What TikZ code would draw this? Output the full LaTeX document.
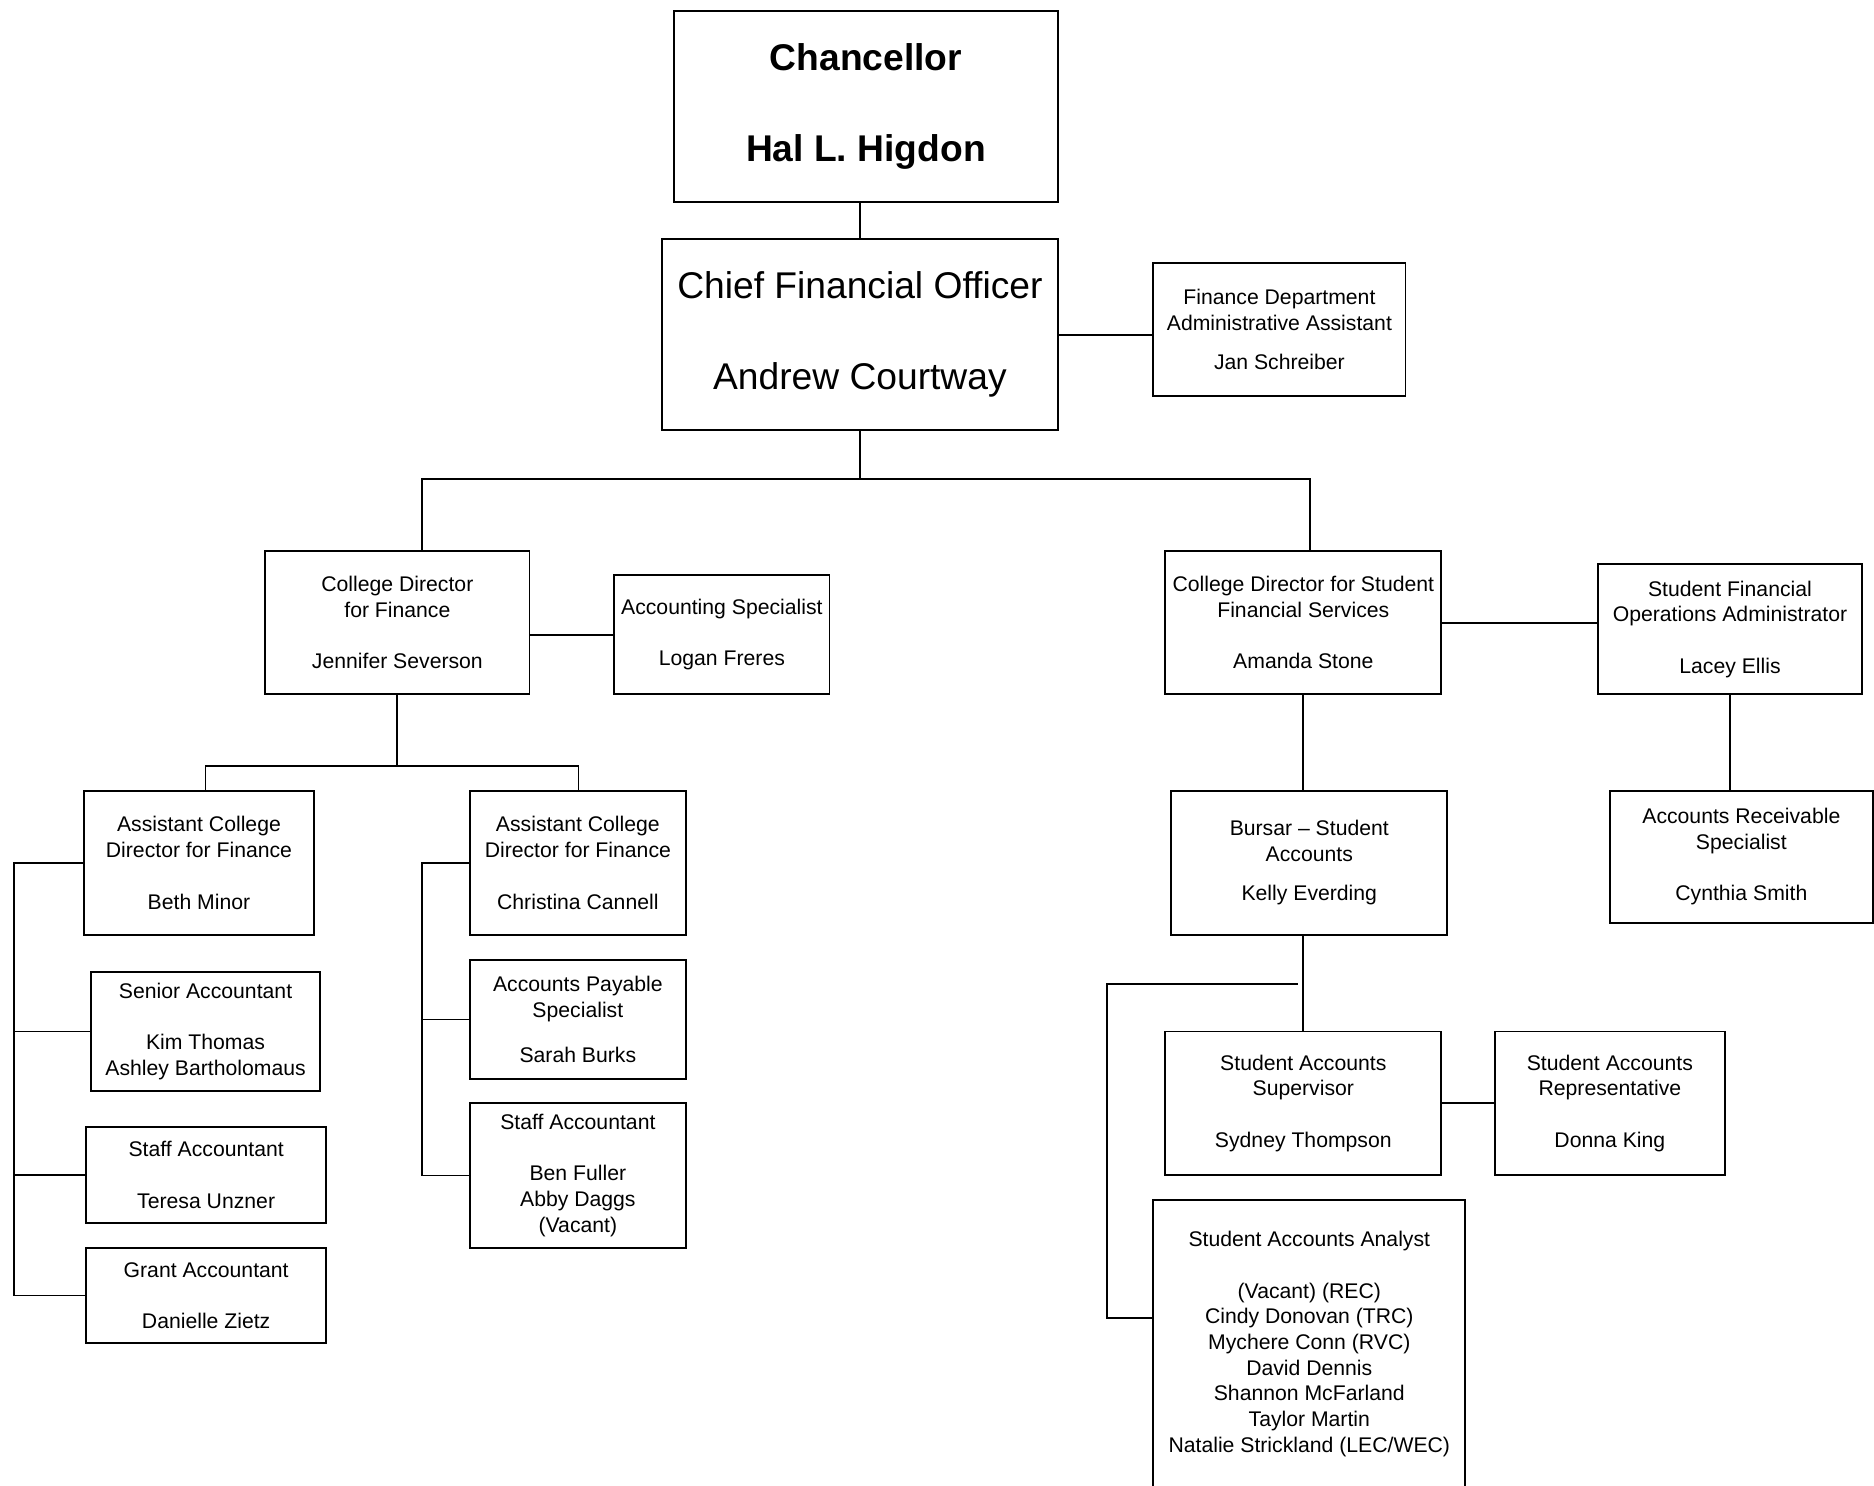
\documentclass[tikz,border=0pt]{standalone}
\usepackage{fontspec}
\setmainfont{Liberation Sans}
\newcommand\nf{\fontsize{10.6}{12.85}\selectfont}
\newcommand\bigf{\fontsize{18.6}{45.4}\selectfont}
\begin{document}
\begin{tikzpicture}[x=0.5976pt, y=-0.5976pt,
  box/.style={draw, line width=0.9pt, rectangle, inner sep=0pt, align=center, font=\nf,
              execute at begin node={\rule{0pt}{10pt}}},
  bigbox/.style={box, execute at begin node={\rule{0pt}{16.4pt}}},
  sz/.style 2 args={minimum width=#1*0.5976pt, minimum height=#2*0.5976pt},
  txt/.style={inner sep=0pt, align=center, font=\nf},
  conn/.style={line width=0.9pt}]
\fill[white] (0,0) rectangle (1568,1243);
\useasboundingbox (0,0) rectangle (1568,1243);

% top
\node[bigbox, sz={321}{160}, font=\bigf\bfseries] (chan) at (724.5,89) {Chancellor\\Hal L. Higdon};
\node[bigbox, sz={331}{160}, font=\bigf] (cfo) at (719.5,280) {Chief Financial Officer\\Andrew Courtway};
\node[box, sz={211}{111}] (fda) at (1070.5,275.5) {Finance Department\\Administrative Assistant\\[6.75pt]Jan Schreiber};

% level 2
\node[box, sz={221}{120}] (cdf) at (332.5,521) {College Director\\for Finance\\[12.85pt]Jennifer Severson};
\node[box, sz={180}{100}] (acs) at (604,531) {Accounting Specialist\\[12.85pt]Logan Freres};
\node[box, sz={231}{120}] (cds) at (1090.5,521) {College Director for Student\\Financial Services\\[12.85pt]Amanda Stone};
\node[box, sz={221}{109}] (sfo) at (1447.5,526.5) {Student Financial\\Operations Administrator\\[12.85pt]Lacey Ellis};
\node[box, sz={220}{110}] (ars) at (1457,717) {Accounts Receivable\\Specialist\\[12.85pt]Cynthia Smith};

% finance branch
\node[box, sz={193}{120}] (acd1) at (166.5,722) {Assistant College\\Director for Finance\\[12.85pt]Beth Minor};
\node[box, sz={181}{120}] (acd2) at (483.5,722) {Assistant College\\Director for Finance\\[12.85pt]Christina Cannell};
\node[box, sz={192}{100}] (sen) at (172,863) {Senior Accountant\\[12.85pt]Kim Thomas\\Ashley Bartholomaus};
\node[box, sz={201}{80}] (sta1) at (172.5,983) {Staff Accountant\\[12.85pt]Teresa Unzner};
\node[box, sz={201}{80}] (gra) at (172.5,1084) {Grant Accountant\\[12.85pt]Danielle Zietz};
\node[box, sz={181}{100}] (aps) at (483.5,853) {Accounts Payable\\Specialist\\[9.7pt]Sarah Burks};
\node[box, sz={181}{121}] (sta2) at (483.5,983.5) {Staff Accountant\\[12.85pt]Ben Fuller\\Abby Daggs\\(Vacant)};

% student branch
\node[box, sz={231}{120}] (bur) at (1095.5,722) {Bursar -- Student\\Accounts\\[6.9pt]Kelly Everding};
\node[box, sz={231}{120}] (sup) at (1090.5,923) {Student Accounts\\Supervisor\\[12.85pt]Sydney Thompson};
\node[box, sz={192}{120}] (rep) at (1347,923) {Student Accounts\\Representative\\[12.85pt]Donna King};
\node[box, sz={261}{262}] (ana) at (1095.5,1135) {};
\node[txt] (anatxt) at (1095.5,1124.5) {Student Accounts Analyst\\[12.85pt](Vacant) (REC)\\Cindy Donovan (TRC)\\Mychere Conn (RVC)\\David Dennis\\Shannon McFarland\\Taylor Martin\\Natalie Strickland (LEC/WEC)};

% bus coordinates
\coordinate (busL) at (353,401);
\coordinate (busR) at (1096,401);
\coordinate (b2L) at (172,641);
\coordinate (b2R) at (484,641);
\coordinate (lb) at (12,722);
\coordinate (mb) at (353,722);
\coordinate (brk1) at (1086,823);
\coordinate (brk2) at (926,823);
\coordinate (brk3) at (926,1103);

% connectors
\draw[conn] (cfo.north) -- (cfo.north |- chan.south);
\draw[conn] (cfo.east) -- (cfo.east -| fda.west);
\draw[conn] (cfo.south) -- (cfo.south |- busL);
\draw[conn] (busL |- cdf.north) -- (busL) -- (busR) -- (busR |- cds.north);
\draw[conn] (acs.west) -- (acs.west -| cdf.east);
\draw[conn] (cds.east) -- (cds.east -| sfo.west);
\draw[conn] (sfo.south) -- (sfo.south |- ars.north);
\draw[conn] (cdf.south) -- (cdf.south |- b2L);
\draw[conn] (b2L |- acd1.north) -- (b2L) -- (b2R) -- (b2R |- acd2.north);
\draw[conn] (acd1.west) -- (acd1.west -| lb) -- (lb |- gra.west) -- (gra.west);
\draw[conn] (sen.west) -- (sen.west -| lb);
\draw[conn] (sta1.west) -- (sta1.west -| lb);
\draw[conn] (acd2.west) -- (acd2.west -| mb) -- (mb |- sta2.west) -- (sta2.west);
\draw[conn] (aps.west) -- (aps.west -| mb);
\draw[conn] (cds.south) -- (cds.south |- bur.north);
\draw[conn] (sup.north) -- (sup.north |- bur.south);
\draw[conn] (sup.east) -- (rep.west);
\draw[conn] (brk1) -- (brk2) -- (brk3) -- (brk3 -| ana.west);
\end{tikzpicture}
\end{document}
